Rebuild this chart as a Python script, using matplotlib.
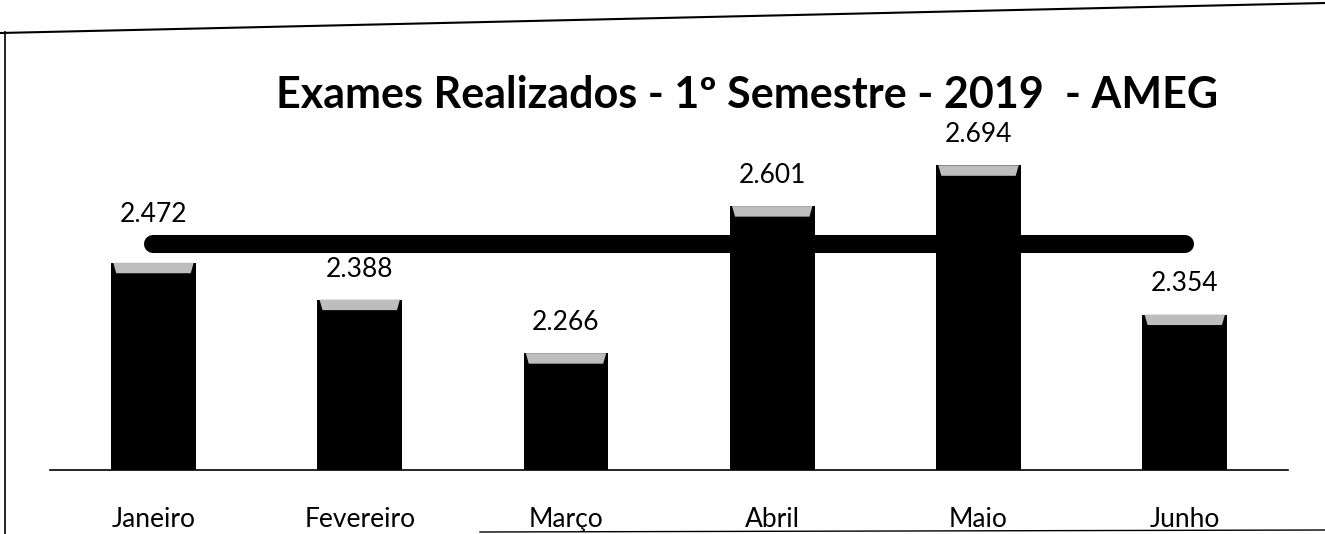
import matplotlib.pyplot as plt
from matplotlib.lines import Line2D
from matplotlib.patches import Polygon
import numpy as np

plt.rcParams['font.family'] = ['Lato', 'DejaVu Sans']

# dados
meses = ["Janeiro", "Fevereiro", "Março", "Abril", "Maio", "Junho"]
exames = [2472, 2388, 2266, 2601, 2694, 2354]
rotulos = ["2.472", "2.388", "2.266", "2.601", "2.694", "2.354"]
meta = [2515, 2515, 2515, 2515, 2515, 2515]

fig = plt.figure(figsize=(13.25, 5.34), dpi=100)
ax = fig.add_axes([0.038, 0.12, 0.934, 0.693])

x = np.arange(len(meses))
largura = 0.41
ax.bar(x, exames, width=largura, color="black", zorder=2)

# linha da media / meta
ax.plot(x, meta, color="black", lw=13, solid_capstyle="round", zorder=1)

# bisel cinza no topo das barras
bisel = 24
for xi, v in zip(x, exames):
    l, r = xi - largura / 2, xi + largura / 2
    ins = largura * 0.06
    poly = Polygon([(l + 0.01, v), (r - 0.01, v), (r - ins, v - bisel), (l + ins, v - bisel)],
                   closed=True, facecolor="#bdbdbd", edgecolor="none", zorder=3)
    ax.add_patch(poly)

# rotulos de dados
for i, (xi, v, t) in enumerate(zip(x, exames, rotulos)):
    off = 26 if i == 0 else 13
    ax.annotate(t, (xi, v), xytext=(0, off), textcoords="offset points",
                ha="center", va="bottom", fontsize=19)

ax.set_ylim(2000, 2843)
ax.set_xlim(-0.5, len(meses) - 0.5)
ax.set_xticks(x)
ax.set_xticklabels(meses, fontsize=19)
ax.tick_params(axis="x", length=0, pad=27)
ax.set_yticks([])
for s in ["top", "left", "right"]:
    ax.spines[s].set_visible(False)
ax.spines["bottom"].set_linewidth(1.2)

fig.text(0.564, 1 - 95 / 534, "Exames Realizados - 1º Semestre - 2019  - AMEG",
         ha="center", va="center", fontsize=31, fontweight="bold")

# moldura da folha digitalizada
fig.add_artist(Line2D([0.0, 1.0], [1 - 33 / 534, 1 - 3 / 534], color="black", lw=1.5))
fig.add_artist(Line2D([5 / 1325, 5 / 1325], [0.0, 1 - 32 / 534], color="black", lw=1.2))
fig.add_artist(Line2D([480 / 1325, 1.0], [2 / 534, 4 / 534], color="black", lw=1.0))

fig.savefig("out.png", dpi=100)
